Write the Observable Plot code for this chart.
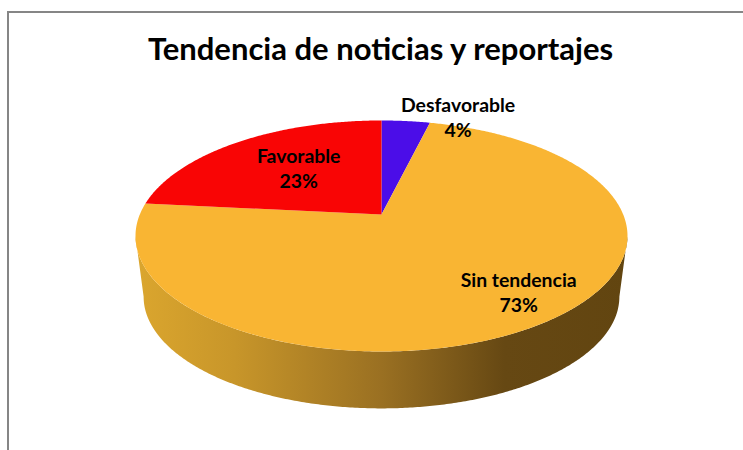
<!DOCTYPE html>
<html>
<head>
<meta charset="utf-8">
<script src="https://cdn.jsdelivr.net/npm/d3@7"></script>
<script src="https://cdn.jsdelivr.net/npm/@observablehq/plot@0.6"></script>
<style>
html,body{margin:0;padding:0;background:#fff;overflow:hidden}
#chart{position:relative;width:743px;height:450px;overflow:hidden}
#frame{position:absolute;left:7px;top:11px;width:800px;height:500px;border-left:2px solid #868686;border-top:2px solid #868686}
#chart svg{position:absolute;left:0;top:0}
</style>
</head>
<body>
<div id="chart"><div id="frame"></div></div>
<script>
const chartTitle = "Tendencia de noticias y reportajes";
const categories = ["Desfavorable", "Sin tendencia", "Favorable"];
const shares = [3.8, 72.8, 23.4];
const colors = ["#4B0DE8", "#F9B533", "#F90505"];
const labelNudgeX = [61, 45, 7];
const labelNudgeY = [-38, 16.5, -1];

// Perspective of the tilted disc: unit circle -> projected plane.
const tilt = 0.186, labelRadius = 0.6;
const wallScale = 0.967, wallDrop = 0.551;
const project = (deg, r = 1) => {
  const a = deg * Math.PI / 180, u = r * Math.sin(a), v = r * Math.cos(a), d = 1 + tilt * v;
  return {x: u / d, y: v / d};
};
const sweep = (from, to) => d3.range(from, to, 0.5).concat(to);

let start = 0;
const slices = categories.map((name, i) => {
  const from = start, to = start + shares[i] * 3.6;
  start = to;
  return {name, from, to, mid: (from + to) / 2, pct: Math.round(shares[i])};
});
const slicePoints = slices.flatMap(s =>
  [{x: 0, y: 0, name: s.name}].concat(sweep(s.from, s.to).map(t => ({...project(t), name: s.name})))
);
// Side wall: front of the upper rim, then the lower rim back along the front.
const frontAngles = sweep(100.8, 259.2);
const wall = frontAngles.map(t => project(t)).concat(
  frontAngles.slice().reverse().map(t => {
    const p = project(t);
    return {x: p.x * wallScale, y: p.y * wallScale - wallDrop};
  })
);

const labelMarks = slices.map((s, i) => Plot.text([s], {
  x: d => project(d.mid, labelRadius).x,
  y: d => project(d.mid, labelRadius).y,
  text: d => `${d.name}\n${d.pct}%`,
  dx: labelNudgeX[i],
  dy: labelNudgeY[i],
  lineHeight: 1.29,
  fontSize: 19.4,
  fontWeight: 700,
  fontFamily: "Lato",
  fill: "#000"
}));

const shade = () => {
  const defs = d3.create("svg:defs");
  const g = defs.append("linearGradient").attr("id", "wallShade")
    .attr("x1", 0).attr("x2", 1).attr("y1", 0).attr("y2", 0);
  [[0, "#DBA62E"], [0.2, "#C8962A"], [0.5, "#9A7022"], [0.75, "#664813"], [1, "#624510"]].forEach(([o, c]) =>
    g.append("stop").attr("offset", o).attr("stop-color", c));
  return defs.node();
};

const plot = Plot.plot({
  width: 743,
  height: 450,
  margin: 0,
  style: {background: "transparent"},
  x: {domain: [-1, 1], range: [139.3, 622.7], axis: null},
  y: {domain: [-1, 1], range: [325.5, 102.5], axis: null},
  color: {domain: categories, range: colors},
  marks: [
    shade,
    Plot.line(wall, {x: "x", y: "y", fill: "url(#wallShade)", stroke: "none", curve: "linear-closed"}),
    Plot.line(slicePoints, {x: "x", y: "y", z: "name", fill: "name", stroke: "none", curve: "linear-closed"}),
    Plot.text([chartTitle], {
      frameAnchor: "top", dy: 37, dx: 8.5, text: d => d,
      fontSize: 31, fontWeight: 700, fontFamily: "Lato", fill: "#000", lineAnchor: "top"
    }),
    ...labelMarks
  ]
});
document.getElementById("chart").appendChild(plot);
</script>
</body>
</html>
